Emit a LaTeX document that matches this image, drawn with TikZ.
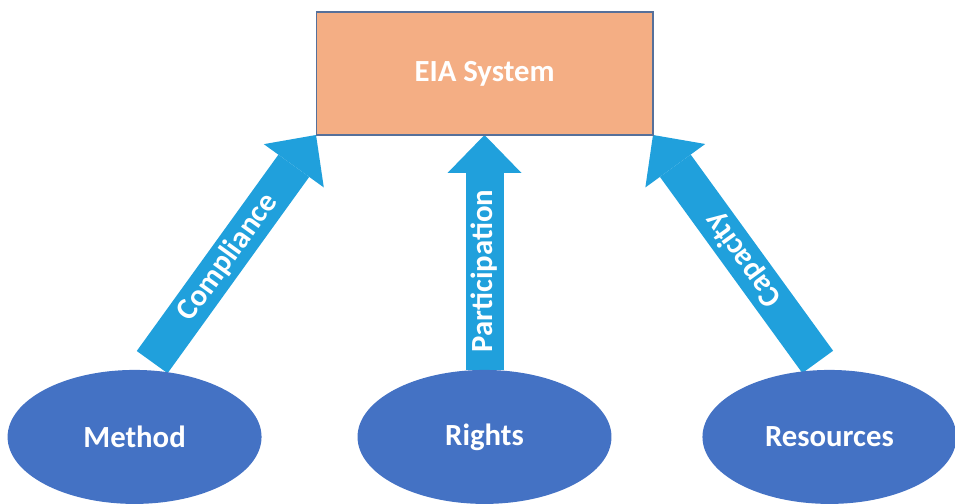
\documentclass[tikz,border=0pt]{standalone}
\usepackage{fontspec}
\setmainfont{Carlito}
\usetikzlibrary{positioning,shapes.geometric,arrows.meta,backgrounds}

\definecolor{eiafill}{HTML}{F4AE84}
\definecolor{eiaedge}{HTML}{56709A}
\definecolor{basefill}{HTML}{4472C4}
\definecolor{flowfill}{HTML}{20A0DC}

\begin{document}
\begin{tikzpicture}[
    x=0.02cm, y=0.02cm,
    every node/.style={font=\fontsize{17.5}{20}\selectfont\bfseries, text=white, inner sep=0pt, outer sep=0pt},
    system/.style={draw=eiaedge, line width=0.6pt, fill=eiafill, minimum width=6.74cm, minimum height=2.46cm},
    base/.style={ellipse, fill=basefill, minimum width=5.08cm, minimum height=2.68cm},
    flow/.style={draw=flowfill, line width=0.76cm, -{Triangle[width=1.48cm, length=0.76cm, line width=0pt]}}
]
\useasboundingbox (0,0) rectangle (955,503);

% Systeme
\node[system] (eia) at (484.5,429.5) {EIA System};

% Piliers
\node[base, below=4.7cm of eia] (rights) {Rights};
\node[base, left=1.92cm of rights] (method) {Method};
\node[base, right=1.82cm of rights] (resources) {Resources};

% Fleches
\begin{scope}[on background layer]
\draw[flow, shorten <=0.2cm] (method.80) -- node[sloped, pos=0.48] {Compliance} (eia.south west);
\draw[flow] (rights.north) -- node[sloped, pos=0.42] {Participation} (eia.south);
\draw[flow, shorten <=0.2cm] (resources.95) -- node[sloped, allow upside down, pos=0.47] {Capacity} (eia.south east);
\end{scope}

\end{tikzpicture}
\end{document}
